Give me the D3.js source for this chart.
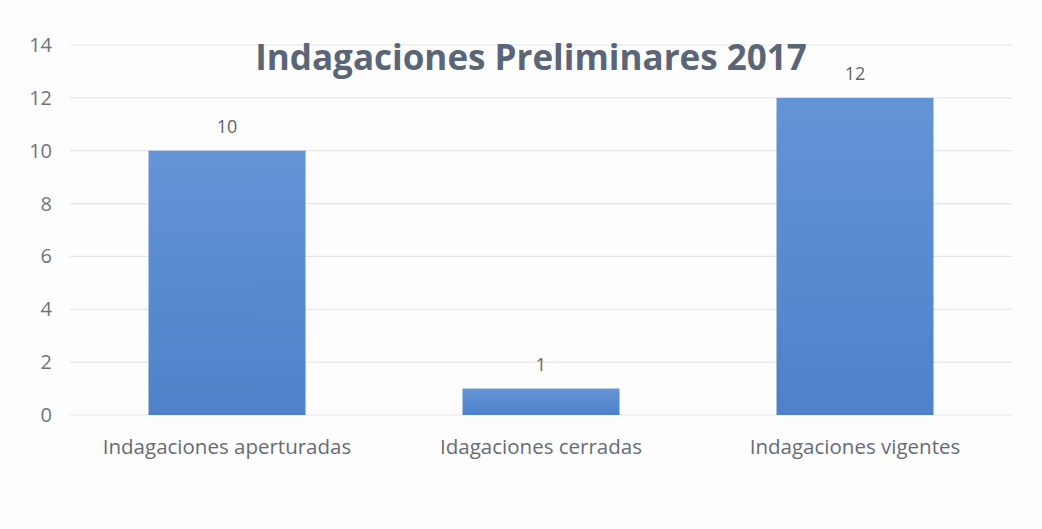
<!DOCTYPE html>
<html>
<head>
<meta charset="utf-8">
<script src="https://cdn.jsdelivr.net/npm/d3@7"></script>
<style>
	body { margin: 0; background: #fdfdfd; }
	svg { display: block; font-family: "Open Sans", "Liberation Sans", sans-serif; }
	.grid line { stroke: #e4e6ea; stroke-width: 1.2; }
	.tick-label { fill: #70747c; font-size: 20px; }
	.cat-label { fill: #676b74; font-size: 20.5px; }
	.value { fill: #5f636b; font-size: 18px; }
	.title { fill: #5a6577; font-size: 35px; font-weight: bold; }
</style>
</head>
<body>
<script>
var categories = ['Indagaciones aperturadas', 'Idagaciones cerradas', 'Indagaciones vigentes'];
var values = [10, 1, 12];
var yTicks = [0, 2, 4, 6, 8, 10, 12, 14];
var title = 'Indagaciones Preliminares 2017';

var width = 1042;
var height = 529;
var plotLeft = 70;
var plotRight = 1012;
var plotTop = 45;
var plotBottom = 415;

var svg = d3.select('body')
	.append('svg')
	.attr('width', width)
	.attr('height', height);

var defs = svg.append('defs');
var grad = defs.append('linearGradient')
	.attr('id', 'barFill')
	.attr('x1', 0).attr('y1', 0)
	.attr('x2', 0).attr('y2', 1);
grad.append('stop').attr('offset', '0%').attr('stop-color', '#6394d6');
grad.append('stop').attr('offset', '100%').attr('stop-color', '#4e81c9');

var xScale = d3.scaleBand()
	.domain(categories)
	.range([plotLeft, plotRight])
	.paddingInner(0.5)
	.paddingOuter(0.25);

var yScale = d3.scaleLinear()
	.domain([0, 14])
	.range([plotBottom, plotTop]);

// gridlines
svg.append('g')
	.attr('class', 'grid')
	.selectAll('line')
	.data(yTicks)
	.enter()
	.append('line')
	.attr('x1', plotLeft)
	.attr('x2', plotRight)
	.attr('y1', function(d) { return yScale(d); })
	.attr('y2', function(d) { return yScale(d); });

// y tick labels
svg.append('g')
	.selectAll('text')
	.data(yTicks)
	.enter()
	.append('text')
	.attr('class', 'tick-label')
	.attr('text-anchor', 'end')
	.attr('x', 52)
	.attr('y', function(d) { return yScale(d); })
	.attr('dy', '0.35em')
	.text(function(d) { return d; });

// bars
svg.append('g')
	.selectAll('rect')
	.data(values)
	.enter()
	.append('rect')
	.attr('x', function(d, i) { return xScale(categories[i]); })
	.attr('y', function(d) { return yScale(d); })
	.attr('width', xScale.bandwidth())
	.attr('height', function(d) { return yScale(0) - yScale(d); })
	.attr('fill', 'url(#barFill)');

// value labels
svg.append('g')
	.selectAll('text')
	.data(values)
	.enter()
	.append('text')
	.attr('class', 'value')
	.attr('text-anchor', 'middle')
	.attr('x', function(d, i) { return xScale(categories[i]) + xScale.bandwidth() / 2; })
	.attr('y', function(d) { return yScale(d) - 18; })
	.text(function(d) { return d; });

// category labels
svg.append('g')
	.selectAll('text')
	.data(categories)
	.enter()
	.append('text')
	.attr('class', 'cat-label')
	.attr('text-anchor', 'middle')
	.attr('x', function(d) { return xScale(d) + xScale.bandwidth() / 2; })
	.attr('y', 454)
	.text(function(d) { return d; });

svg.append('text')
	.attr('class', 'title')
	.attr('text-anchor', 'middle')
	.attr('x', 531)
	.attr('y', 70)
	.text(title);
</script>
</body>
</html>
